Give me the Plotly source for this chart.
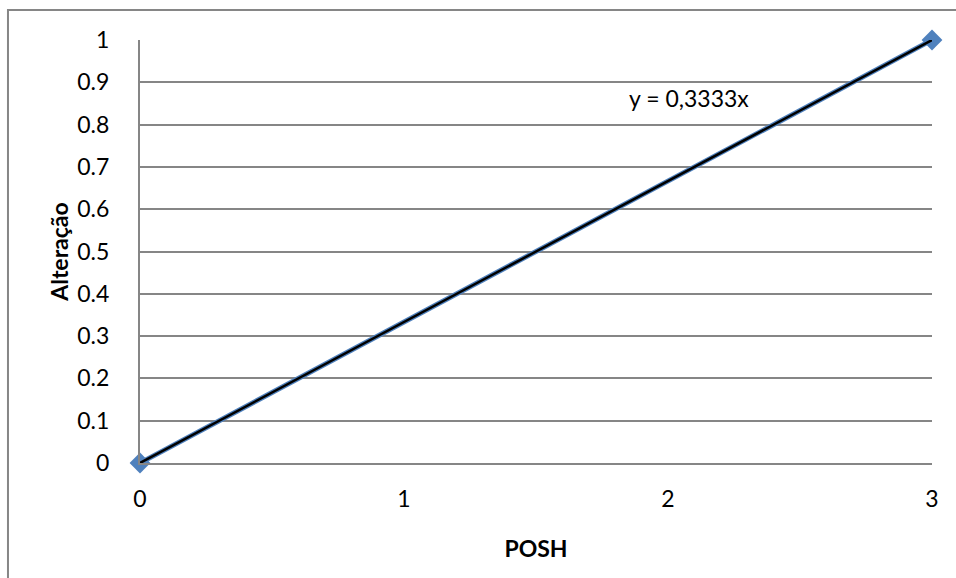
import plotly.graph_objects as go

# Observed values
posh = [0, 3]
alteracao = [0, 1]

# Linear trendline through the origin
slope = 0.3333
trend_x = [0, 3]
trend_y = [slope * v for v in trend_x]
trend_label = "y = 0,3333x"

x_ticks = [0, 1, 2, 3]
y_ticks = [round(i * 0.1, 1) for i in range(11)]
y_tick_text = ["0" if v == 0 else ("1" if v == 1 else f"{v:g}") for v in y_ticks]

GRID = "#868686"
BLUE = "#4F81BD"
FONT = "Lato"
FS = 23

fig = go.Figure()

fig.add_trace(go.Scatter(
    x=posh, y=alteracao,
    mode="lines+markers",
    line=dict(color=BLUE, width=5),
    marker=dict(symbol="diamond", size=16, color=BLUE),
    cliponaxis=False,
    showlegend=False,
))

fig.add_trace(go.Scatter(
    x=trend_x, y=trend_y,
    mode="lines",
    line=dict(color="black", width=2.5),
    cliponaxis=False,
    showlegend=False,
))

fig.add_annotation(
    x=2.08, y=0.862, xref="x", yref="y",
    text=trend_label, showarrow=False,
    font=dict(family=FONT, size=FS, color="black"),
)

# Chart frame
fig.add_shape(
    type="rect", xref="paper", yref="paper",
    x0=-0.1667, x1=1.2, y0=-0.4, y1=1.0709,
    line=dict(color=GRID, width=2), layer="below",
)

fig.update_layout(
    width=956, height=578,
    margin=dict(l=140, r=24, t=40, b=115),
    paper_bgcolor="white", plot_bgcolor="white",
    font=dict(family=FONT, size=FS, color="black"),
)

fig.update_xaxes(
    range=[0, 3], tickvals=x_ticks, ticktext=[str(v) for v in x_ticks],
    tickfont=dict(family=FONT, size=FS, color="black"),
    showgrid=False, zeroline=False,
    showline=True, linecolor=GRID, linewidth=2,
    ticks="", ticklabelstandoff=14,
    title=dict(text="<b>POSH</b>", font=dict(family=FONT, size=FS), standoff=30),
)

fig.update_yaxes(
    range=[0, 1], tickvals=y_ticks, ticktext=y_tick_text,
    tickfont=dict(family=FONT, size=FS, color="black"),
    showgrid=True, gridcolor=GRID, gridwidth=1.5, zeroline=False,
    showline=True, linecolor=GRID, linewidth=2,
    ticks="", ticklabelstandoff=24,
    title=dict(text="<b>Alteração</b>", font=dict(family=FONT, size=FS), standoff=2),
)

fig.write_html("out.html")
